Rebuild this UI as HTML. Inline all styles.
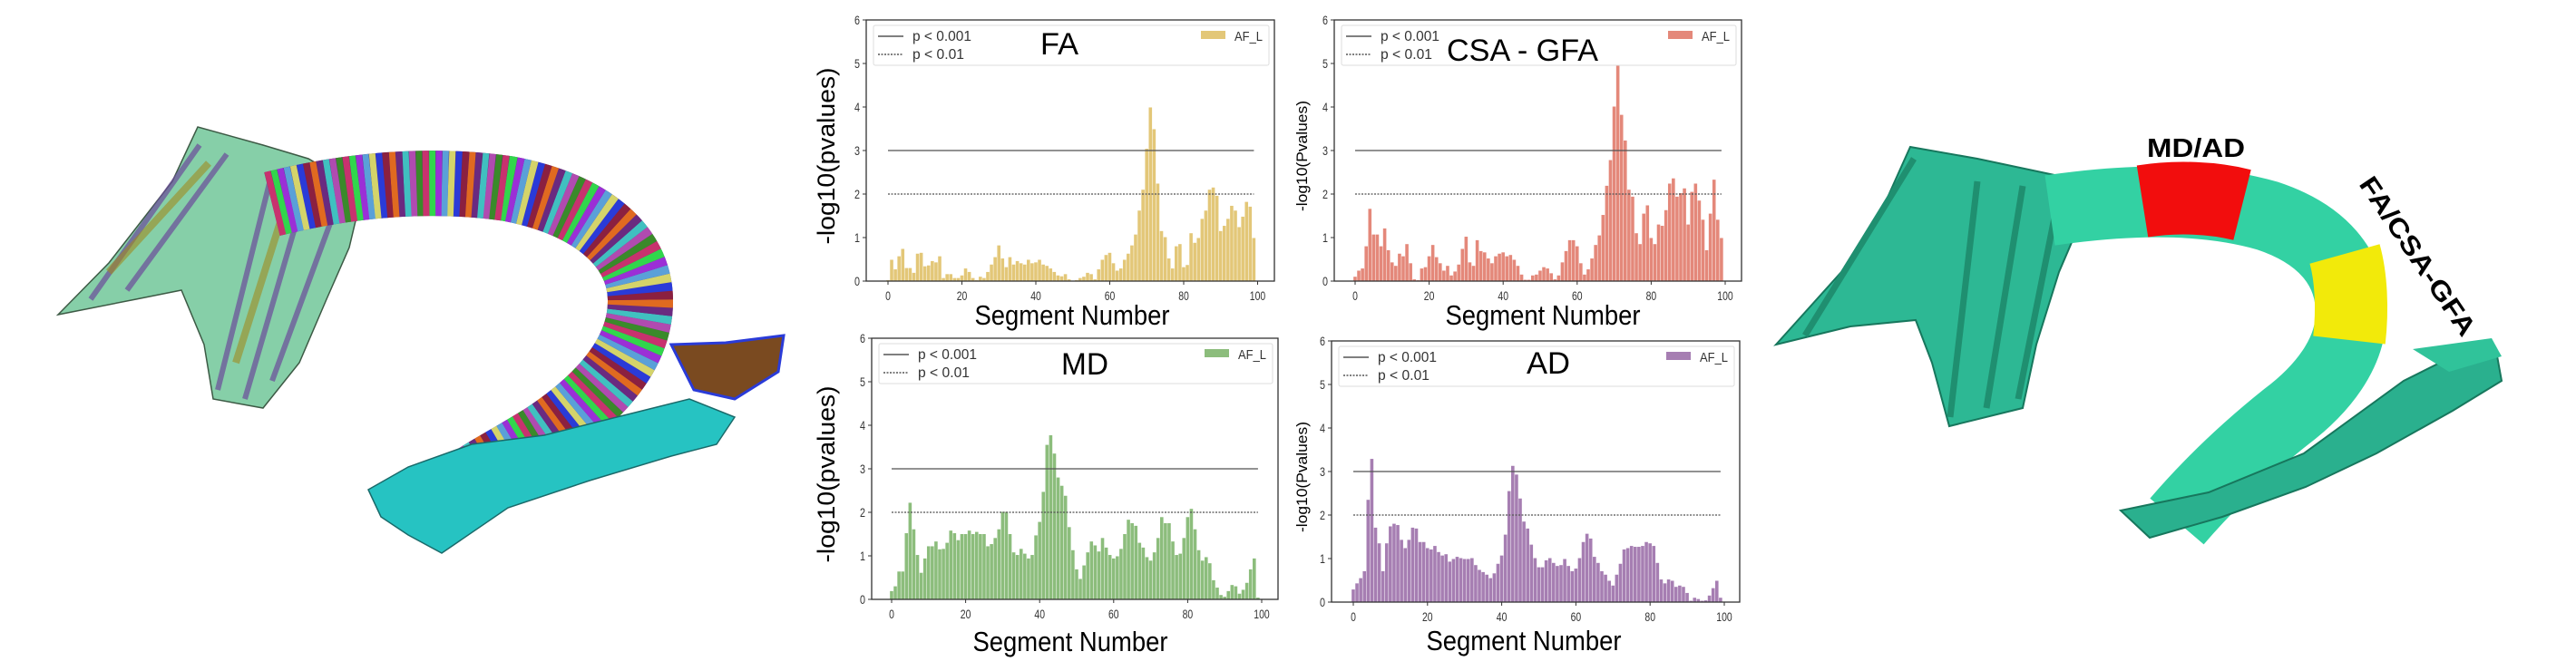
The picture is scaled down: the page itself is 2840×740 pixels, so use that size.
<!DOCTYPE html>
<html><head><meta charset="utf-8">
<style>
html,body{margin:0;padding:0;background:#fff;}
body{width:2840px;height:740px;overflow:hidden;position:relative;font-family:"Liberation Sans",sans-serif;}
svg{position:absolute;left:0;top:0;}
</style></head>
<body>
<svg id="root" width="2840" height="740" viewBox="0 0 2840 740" xmlns="http://www.w3.org/2000/svg">
  <g id="left-tract">
    <polygon points="64,347 120,290 190,200 218,140 290,160 340,175 400,210 385,273 360,330 330,400 290,450 235,440 225,380 200,320 150,330" fill="#86cfa8" stroke="#3d5a45" stroke-width="1.5"/>
    <path d="M100,330 L220,160 M140,320 L250,170 M240,430 L300,190 M270,440 L340,200 M300,420 L370,230" stroke="#6b4a9a" stroke-width="6" opacity="0.7" fill="none"/>
    <path d="M120,300 L230,180 M260,400 L320,210" stroke="#a08a20" stroke-width="8" opacity="0.6" fill="none"/>
    <path id="lband" d="M300,225 C380,205 470,195 560,208 C650,225 705,270 706,330 C707,390 660,440 600,480 C560,505 530,520 510,535" stroke="#5a2a6a" stroke-width="72" fill="none"/>
    <polygon points="406,540 450,515 520,490 600,480 680,460 760,440 810,460 790,490 740,503 650,530 560,560 487,610 450,590 420,570" fill="#26c3c2" stroke="#1a6a6a" stroke-width="1.5"/>
    <polygon points="740,380 800,378 864,370 858,410 810,440 765,430" fill="#7a4a20" stroke="#2a3bd8" stroke-width="3"/>
  </g>

  <g id="right-tract">
    <polygon points="1958,380 2030,300 2080,220 2106,162 2180,175 2284,197 2300,230 2270,300 2245,380 2230,450 2149,470 2130,400 2112,353 2040,360" fill="#2db894" stroke="#17775d" stroke-width="2"/>
    <path d="M1990,370 L2110,175 M2150,460 L2180,200 M2190,450 L2230,205 M2225,440 L2270,215" stroke="#1f8f70" stroke-width="7" fill="none"/>
    <path d="M2260,232 C2330,222 2420,215 2500,238 C2560,258 2592,295 2592,345 C2592,390 2560,430 2520,460 C2470,500 2430,540 2400,575" stroke="#33d1a3" stroke-width="78" fill="none"/>
    <path d="M2362,222 C2400,216 2440,218 2472,226" stroke="#f20d0d" stroke-width="80" fill="none"/>
    <path d="M2585,280 C2592,305 2594,340 2590,375" stroke="#f2ea0a" stroke-width="80" fill="none"/>
    <polygon points="2338,563 2435,543 2540,500 2650,420 2700,395 2752,387 2758,420 2704,453 2620,500 2542,537 2450,570 2370,593" fill="#2ab08e" stroke="#17775d" stroke-width="2"/>
    <polygon points="2660,385 2747,373 2758,393 2700,410" fill="#30c39a"/>
    <text x="2367" y="173" font-family="Liberation Sans, sans-serif" font-weight="bold" font-size="29" textLength="108" lengthAdjust="spacingAndGlyphs">MD/AD</text>
    <text x="0" y="0" font-family="Liberation Sans, sans-serif" font-weight="bold" font-size="29" textLength="205" lengthAdjust="spacingAndGlyphs" transform="translate(2600,203) rotate(56)">FA/CSA-GFA</text>
  </g>
  <g id="charts"></g>
</svg>
<script>
const segments = [];
for (let i = 0; i < 100; i++) segments.push(i);
const faValues = [0.02,0.49,0.27,0.57,0.74,0.3,0.3,0.19,0.63,0.65,0.34,0.36,0.46,0.43,0.57,0.07,0.16,0.16,0.07,0.07,0.13,0.29,0.21,0.07,0.02,0.1,0.07,0.21,0.38,0.55,0.82,0.52,0.32,0.55,0.38,0.46,0.41,0.38,0.49,0.41,0.43,0.49,0.38,0.35,0.29,0.21,0.13,0.11,0.16,0.04,0,0.02,0.07,0.1,0.19,0.16,0.04,0.27,0.49,0.6,0.65,0.41,0.24,0.29,0.49,0.63,0.82,1.07,1.62,2.1,3.04,3.99,3.49,2.24,1.15,1.01,0.52,0.29,0.8,0.85,0.32,0.37,1.1,0.88,0.99,1.43,1.62,2.1,2.15,1.96,1.15,1.27,1.43,1.73,1.62,1.24,1.48,1.82,1.71,0.99];
const csaValues = [0.1,0.24,0.29,0.8,1.66,1.07,1.07,0.8,1.21,0.71,0.43,0.35,0.63,0.57,0.85,0.41,0.04,0.02,0.29,0.32,0.57,0.83,0.55,0.41,0.24,0.35,0.13,0.22,0.38,0.74,1.02,0.43,0.35,0.94,0.69,0.66,0.52,0.41,0.57,0.63,0.66,0.57,0.6,0.49,0.35,0.15,0.03,0.03,0.13,0.15,0.24,0.32,0.29,0.18,0.04,0.13,0.43,0.69,0.94,0.94,0.8,0.41,0.15,0.27,0.52,0.83,1.05,1.52,2.19,2.78,4.01,5.17,3.82,3.23,2.1,1.94,1.1,0.85,1.55,1.74,0.99,0.85,1.3,1.27,1.63,2.24,2.36,1.94,2.02,2.13,1.3,2.05,2.24,1.85,1.41,0.71,1.55,2.33,1.41,0.99];
const mdValues = [0.19,0.3,0.64,0.64,1.52,2.22,1.61,1.02,0.61,0.94,1.22,1.22,1.33,1.15,1.16,1.3,1.58,1.52,1.36,1.5,1.5,1.58,1.5,1.55,1.5,1.5,1.22,1.27,1.41,1.61,2.01,2.01,1.5,1.08,1.02,1.16,1.05,0.94,1.02,1.47,1.78,2.47,3.55,3.77,3.35,2.8,2.61,2.38,1.66,1.13,0.69,0.47,0.78,1.08,1.33,1.24,1.1,1.41,1.19,1.02,0.94,0.99,1.16,1.5,1.83,1.75,1.69,1.3,1.19,0.97,0.89,1.08,1.41,1.89,1.75,1.75,1.33,1.02,1.05,1.41,1.89,2.08,1.61,1.13,0.89,0.97,0.83,0.44,0.27,0.1,0.06,0.19,0.33,0.3,0.13,0.22,0.38,0.69,0.94,0.04];
const adValues = [0.29,0.43,0.55,0.71,2.35,3.29,1.71,1.35,0.71,1.35,1.74,1.8,1.77,1.43,1.24,1.43,1.71,1.69,1.38,1.38,1.24,1.21,1.29,1.15,1.07,1.1,0.93,0.99,1.04,1.01,0.99,0.99,1.01,0.85,0.74,0.69,0.63,0.55,0.66,0.88,1.07,1.55,2.55,3.13,2.93,2.38,1.85,1.69,1.32,1.01,0.8,0.8,0.96,1.01,0.9,0.83,0.85,0.99,0.83,0.71,0.77,1.01,1.38,1.57,1.46,1.04,0.9,0.71,0.63,0.49,0.38,0.63,0.88,1.21,1.24,1.29,1.27,1.27,1.29,1.38,1.35,1.29,0.9,0.52,0.43,0.52,0.49,0.35,0.38,0.35,0.21,0.03,0.1,0.07,0.03,0.04,0.15,0.32,0.49,0.1];
const yTicks = [0,1,2,3,4,5,6];
const xTicks = [0,20,40,60,80,100];
const thresholdValues = [3,2];
const legendLabels = ["p < 0.001","p < 0.01"];

const NS = "http://www.w3.org/2000/svg";
function mk(tag, attrs, parent) {
  const e = document.createElementNS(NS, tag);
  for (const k in attrs) e.setAttribute(k, attrs[k]);
  parent.appendChild(e);
  return e;
}

const charts = [
  {key:"fa", title:"FA", values:faValues, color:"#e3c778", L:955, R:1405, T:22, B:310, x0:979, x100:1386.5,
   bigLabel:true, ylx:911, tx:1147, ty:60, tw:42, xlx:1182, xly:358},
  {key:"csa-gfa", title:"CSA - GFA", values:csaValues, color:"#e4887a", L:1471, R:1920, T:22, B:310, x0:1494, x100:1902,
   bigLabel:false, ylx:1436, tx:1595, ty:67, tw:167, xlx:1701, xly:358},
  {key:"md", title:"MD", values:mdValues, color:"#8cbd7c", L:961, R:1409, T:373, B:661, x0:983, x100:1391,
   bigLabel:true, ylx:911, tx:1170, ty:413, tw:52, xlx:1180, xly:718},
  {key:"ad", title:"AD", values:adValues, color:"#a67eb2", L:1468, R:1918, T:376, B:664, x0:1492, x100:1901,
   bigLabel:false, ylx:1436, tx:1683, ty:412, tw:48, xlx:1680, xly:717}
];

const root = document.getElementById("charts");

charts.forEach(c => {
  const g = mk("g", {}, root);
  
  
  const yScale = v => c.B - (v / 6) * (c.B - c.T);
  const xScale = s => c.x0 + (s / 100) * (c.x100 - c.x0);
  const step = (c.x100 - c.x0) / 100;

  segments.forEach((s, i) => {
    const v = c.values[i];
    const bar = mk("rect", {x: xScale(s) - step * 0.45, y: yScale(v), width: step * 0.88, height: c.B - yScale(v), fill: c.color}, g);
    
    
  });

  thresholdValues.forEach((t, k) => {
    const ln = mk("line", {x1: xScale(0), x2: xScale(99), y1: yScale(t), y2: yScale(t), stroke: "#555", "stroke-width": 1.4, opacity: 0.85}, g);
    if (k === 1) ln.setAttribute("stroke-dasharray", "2 1.5");
    
    
  });

  const frame = mk("rect", {x: c.L, y: c.T, width: c.R - c.L, height: c.B - c.T, fill: "none", stroke: "#333", "stroke-width": 1.3}, g);
  
  

  yTicks.forEach(t => {
    mk("line", {x1: c.L - 4, x2: c.L, y1: yScale(t), y2: yScale(t), stroke: "#333", "stroke-width": 1}, g);
    const tl = mk("text", {x: c.L - 7, y: yScale(t) + 5, "text-anchor": "end", "font-size": 14, fill: "#333", textLength: 6, lengthAdjust: "spacingAndGlyphs"}, g);
    tl.textContent = t;
    
    
  });
  xTicks.forEach(t => {
    mk("line", {x1: xScale(t), x2: xScale(t), y1: c.B, y2: c.B + 4, stroke: "#333", "stroke-width": 1}, g);
    const str = String(t);
    const tl = mk("text", {x: xScale(t), y: c.B + 21, "text-anchor": "middle", "font-size": 14, fill: "#333", textLength: str.length * 5.8, lengthAdjust: "spacingAndGlyphs"}, g);
    tl.textContent = str;
    
    
  });

  const lx = c.L + 8, ly = c.T + 6;
  const lbox = mk("rect", {x: lx, y: ly, width: c.R - c.L - 14, height: 44, fill: "#fff", stroke: "#ddd", "stroke-width": 1, rx: 2}, g);
  
  
  legendLabels.forEach((lab, k) => {
    const yy = ly + 12 + k * 20;
    const s = mk("line", {x1: lx + 5, x2: lx + 33, y1: yy, y2: yy, stroke: "#555", "stroke-width": 1.4}, g);
    if (k === 1) s.setAttribute("stroke-dasharray", "2 1.5");
    const t = mk("text", {x: lx + 43, y: yy + 5, "font-size": 16, fill: "#333", textLength: k === 0 ? 65 : 57, lengthAdjust: "spacingAndGlyphs"}, g);
    t.textContent = lab;
    
    
  });
  mk("rect", {x: c.R - 81, y: ly + 6, width: 27, height: 9, fill: c.color}, g);
  const af = mk("text", {x: c.R - 44, y: ly + 17, "font-size": 15, fill: "#333", textLength: 31, lengthAdjust: "spacingAndGlyphs"}, g);
  af.textContent = "AF_L";
  
  

  const ti = mk("text", {x: c.tx, y: c.ty, "font-size": 34, fill: "#000", textLength: c.tw, lengthAdjust: "spacingAndGlyphs"}, g);
  ti.textContent = c.title;
  
  

  const xl = mk("text", {x: c.xlx, y: c.xly, "text-anchor": "middle", "font-size": 31, fill: "#000", textLength: 215, lengthAdjust: "spacingAndGlyphs"}, g);
  xl.textContent = "Segment Number";
  
  

  const cy = (c.T + c.B) / 2;
  const yl = mk("text", {x: 0, y: 0, "text-anchor": "middle", "font-size": c.bigLabel ? 27 : 17, fill: "#000",
    textLength: c.bigLabel ? 195 : 122, lengthAdjust: "spacingAndGlyphs",
    transform: "translate(" + (c.ylx + (c.bigLabel ? 9 : 5)) + "," + (cy + 6) + ") rotate(-90)"}, g);
  yl.textContent = c.bigLabel ? "-log10(pvalues)" : "-log10(Pvalues)";
  
  
});

const stripeColors = ["#c8326e","#31d64c","#9b2fd6","#5aa0d8","#d4d46a","#2a3bd8","#8b2040","#e06a20","#6a2a80","#40c0c0","#b04bb0","#3a8a2a"];
const lt = document.getElementById("left-tract");
const band = document.getElementById("lband");
stripeColors.forEach((col, k) => {
  const p = document.createElementNS(NS, "path");
  p.setAttribute("d", band.getAttribute("d"));
  p.setAttribute("stroke", col);
  p.setAttribute("stroke-width", 72);
  p.setAttribute("fill", "none");
  p.setAttribute("stroke-dasharray", "7 77");
  p.setAttribute("stroke-dashoffset", -k * 7);
  
  
  lt.insertBefore(p, band.nextSibling);
});
</script>
</body></html>
